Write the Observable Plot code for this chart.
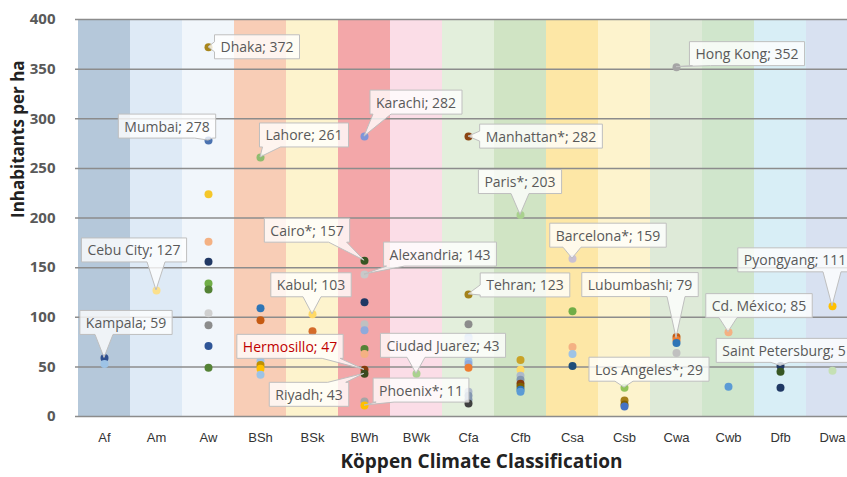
<!DOCTYPE html>
<html><head><meta charset="utf-8">
<script src="https://cdn.jsdelivr.net/npm/d3@7"></script>
<script src="https://cdn.jsdelivr.net/npm/@observablehq/plot@0.6"></script>
<style>
html,body{margin:0;padding:0;background:#fff;overflow:hidden;}
#chart [aria-label^="y-axis"] text{font:bold 15px "Open Sans",sans-serif;fill:#595959;}
#chart [aria-label^="x-axis"] text{font:13px "Liberation Sans",Arial,sans-serif;fill:#333;}
</style></head><body><div id="chart"></div>
<script>
// ---- data ----
const classes = ["Af","Am","Aw","BSh","BSk","BWh","BWk","Cfa","Cfb","Csa","Csb","Cwa","Cwb","Dfb","Dwa"];
const bandColors = ["#b5c8da","#deeaf6","#f1f6fb","#f8cdb6","#fdf3cd","#f3a7a9","#fbdde7","#e3efdc","#d0e4c4","#fde7a6","#fdf3cd","#deead8","#d0e6cc","#d8eef6","#d8e1f1"];
const yTicks = [0,50,100,150,200,250,300,350,400];

const pointClass = [
  "Af","Af",
  "Am",
  "Aw","Aw","Aw","Aw","Aw","Aw","Aw","Aw","Aw","Aw","Aw",
  "BSh","BSh","BSh","BSh","BSh","BSh","BSh",
  "BSk","BSk",
  "BWh","BWh","BWh","BWh","BWh","BWh","BWh","BWh","BWh","BWh","BWh","BWh",
  "BWk",
  "Cfa","Cfa","Cfa","Cfa","Cfa","Cfa","Cfa","Cfa","Cfa","Cfa","Cfa","Cfa",
  "Cfb","Cfb","Cfb","Cfb","Cfb","Cfb","Cfb","Cfb","Cfb",
  "Csa","Csa","Csa","Csa","Csa",
  "Csb","Csb","Csb","Csb",
  "Cwa","Cwa","Cwa","Cwa","Cwa",
  "Cwb","Cwb",
  "Dfb","Dfb","Dfb",
  "Dwa","Dwa"
];
const pointValue = [
  59,53,
  127,
  372,278,224,176,156,134,128,104,92,71,49,
  261,109,97,56,52,48,42,
  103,86,
  282,157,143,115,93,87,68,63,47,43,15,11,
  43,
  282,123,93,80,77,56,53,49,25,21,17,13,
  203,57,47,41,37,33,30,27,25,
  159,106,70,63,51,
  29,16,12,10,
  352,80,77,74,64,
  85,30,
  51,45,29,
  111,46
];
const pointColor = [
  "#2f4f8f","#9dc3e6",
  "#fbe08c",
  "#a8861c","#4a72b0","#f5c72a","#f4b183","#203864","#70ad47","#548235","#d0d0d0","#8c8c8c","#2f5597","#548235",
  "#8fbc6f","#2e75b6","#c55a11","#9dc3e6","#bf9000","#ffc000","#9dc3e6",
  "#ffd966","#d46b2a",
  "#7f95d8","#375623","#c8c8c8","#1f3864","#c0c0c0","#8faadc","#548235","#f4b183","#843c0c","#3b4a1e","#a5a5a5","#ffc000",
  "#a9d18e",
  "#8b4513","#a3821a","#8c8c8c","#9dc3e6","#b4c7e7","#9dc3e6","#8faadc","#ed7d31","#adb9ca","#8497b0","#8497b0","#404040",
  "#a9d18e","#c9a227","#ffd966","#adb9ca","#8497b0","#843c0c","#7f6000","#2e75b6","#5b9bd5",
  "#c9c0d3","#70ad47","#f4b183","#9dc3e6","#1f4e79",
  "#92c35a","#a57f1b","#7f6000","#4472c4",
  "#a5a5a5","#c55a11","#ed7d31","#2e75b6","#c0c0c0",
  "#f4b183","#5b9bd5",
  "#1f3864","#375623","#1f3864",
  "#ffc000","#c5e0b4"
];

const labelText = ["Kampala; 59","Cebu City; 127","Dhaka; 372","Mumbai; 278","Lahore; 261","Karachi; 282","Manhattan*; 282","Paris*; 203","Hong Kong; 352","Cairo*; 157","Alexandria; 143","Kabul; 103","Hermosillo; 47","Riyadh; 43","Phoenix*; 11","Ciudad Juarez; 43","Tehran; 123","Barcelona*; 159","Lubumbashi; 79","Pyongyang; 111","Cd. México; 85","Saint Petersburg; 51","Los Angeles*; 29"];
const labelClass = ["Af","Am","Aw","Aw","BSh","BWh","Cfa","Cfb","Cwa","BWh","BWh","BSk","BWh","BWh","BWh","BWk","Cfa","Csa","Cwa","Dwa","Cwb","Dfb","Csb"];
const labelValue = [59,127,372,278,261,282,282,203,352,157,143,103,47,43,11,43,123,159,79,111,85,51,29];
const labelColor = ["#595959","#595959","#595959","#595959","#595959","#595959","#595959","#595959","#595959","#595959","#595959","#595959","#c00000","#595959","#595959","#595959","#595959","#595959","#595959","#595959","#595959","#595959","#595959"];

// ---- callout layout (pixel offsets of box centre from its point) ----
const labelOffset = [[22,-35],[-22,-40],[49,0],[-41,-14],[44,-22],[52,-34],[73,0],[0,-33],[71,-13],[-57,-30],[76,-20],[-1,-29],[-74,-23],[-55,21],[57,-15],[27,-28],[57,-9],[36,-23],[-36,-53],[-37,-46],[31,-26],[8,-15],[25,-18]];

const points = pointClass.map((c,i)=>({cls:c, value:pointValue[i], color:pointColor[i]}));
const bands = classes.map((c,i)=>({cls:c, color:bandColors[i]}));

const plot = Plot.plot({
  width: 847, height: 477,
  marginLeft: 75, marginRight: 0, marginTop: 19, marginBottom: 61,
  style: {background: "#fff", overflow: "hidden"},
  x: {type: "band", domain: classes, range: [75, 860], padding: 0, tickSize: 0, tickPadding: 16, label: null},
  y: {domain: [0, 400], ticks: yTicks, tickSize: 0, tickPadding: 20, label: null},
  color: {type: "identity"},
  marks: [
    Plot.barY(bands, {x: "cls", y1: 0, y2: 400, fill: "color"}),
    Plot.ruleY(yTicks, {stroke: "#8c8c8c", strokeWidth: 1.5}),
    Plot.dot(points, {x: "cls", y: "value", fill: "color", r: 4}),
    Plot.text(["Inhabitants per ha"], {text: d=>d, frameAnchor: "left", dx: -57, rotate: -90, fontSize: 17, fontWeight: "bold", fontFamily: "Open Sans", fill: "#222"}),
    Plot.text(["Köppen Climate Classification"], {text: d=>d, frameAnchor: "bottom", dx: 20, dy: 51, fontSize: 19, fontWeight: "bold", fontFamily: "Open Sans", fill: "#222"})
  ]
});
document.getElementById("chart").append(plot);

// ---- callouts, positioned via the plot's own scales ----
const sx = plot.scale("x"), sy = plot.scale("y");
const bwid = sx.bandwidth;
const layer = d3.select(plot).append("g").attr("aria-label","callouts");
labelText.forEach((t,i)=>{
  const px = sx.apply(labelClass[i]) + bwid/2;
  const py = sy.apply(labelValue[i]);
  const cx = px + labelOffset[i][0], cy = py + labelOffset[i][1];
  const g = layer.append("g");
  const path = g.append("path");
  const text = g.append("text").attr("x", cx).attr("y", cy)
    .attr("text-anchor","middle").attr("dominant-baseline","central")
    .attr("font-family","Open Sans").attr("font-size",14).attr("fill",labelColor[i]).text(t);
  const w = text.node().getComputedTextLength() + 12, h = 24;
  const x0 = cx - w/2, x1 = cx + w/2, y0 = cy - h/2, y1 = cy + h/2;
  const hb = 9;
  const clamp = (v,a,b)=>Math.max(a,Math.min(b,v));
  let d;
  if (py > y1) {
    const bx = clamp(px, x0+hb+3, x1-hb-3);
    d = `M${x0},${y0}H${x1}V${y1}H${bx+hb}L${px},${py}L${bx-hb},${y1}H${x0}Z`;
  } else if (py < y0) {
    const bx = clamp(px, x0+hb+3, x1-hb-3);
    d = `M${x0},${y1}H${x1}V${y0}H${bx+hb}L${px},${py}L${bx-hb},${y0}H${x0}Z`;
  } else if (px < x0) {
    const by = clamp(py, y0+7, y1-7);
    d = `M${x0},${y0}H${x1}V${y1}H${x0}V${by+5}L${px},${py}L${x0},${by-5}Z`;
  } else {
    const by = clamp(py, y0+7, y1-7);
    d = `M${x1},${y1}H${x0}V${y0}H${x1}V${by-5}L${px},${py}L${x1},${by+5}Z`;
  }
  path.attr("d", d).attr("fill","rgba(255,255,255,0.78)").attr("stroke","#bfbfbf").attr("stroke-width",1);
});
</script></body></html>
